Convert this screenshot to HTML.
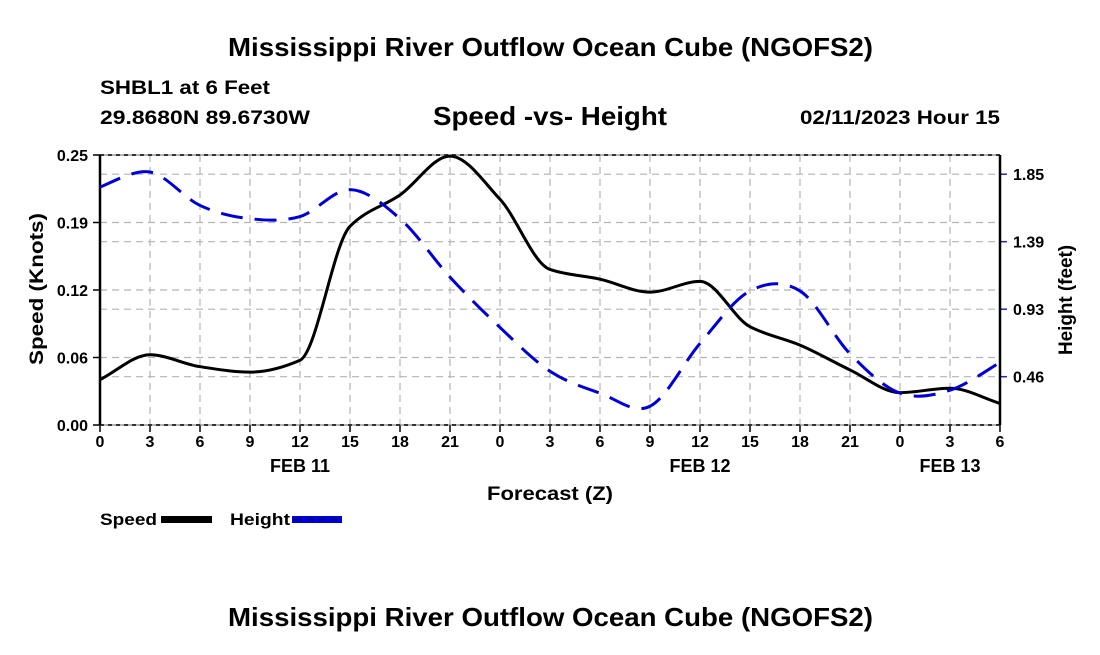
<!DOCTYPE html>
<html><head><meta charset="utf-8"><style>
body{margin:0;background:#fff;width:1100px;height:650px;overflow:hidden}
svg text{font-family:"Liberation Sans",sans-serif;font-weight:bold;fill:#000}
</style></head><body>
<svg id="chart" width="1100" height="650" xmlns="http://www.w3.org/2000/svg">
<text x="228" y="56" font-size="26" textLength="645" lengthAdjust="spacingAndGlyphs">Mississippi River Outflow Ocean Cube (NGOFS2)</text>
<text x="100" y="94" font-size="19" textLength="170" lengthAdjust="spacingAndGlyphs">SHBL1 at 6 Feet</text>
<text x="100" y="124" font-size="19" textLength="210" lengthAdjust="spacingAndGlyphs">29.8680N  89.6730W</text>
<text x="433" y="125" font-size="26" textLength="234" lengthAdjust="spacingAndGlyphs">Speed -vs- Height</text>
<text x="800" y="124" font-size="19" textLength="200" lengthAdjust="spacingAndGlyphs">02/11/2023 Hour 15</text>
<g id="grid"></g><g id="axes"></g><g id="series"></g>
<text transform="translate(43,365) rotate(-90)" font-size="19" textLength="152" lengthAdjust="spacingAndGlyphs">Speed (Knots)</text>
<text transform="translate(1072,355) rotate(-90)" font-size="19" textLength="110" lengthAdjust="spacingAndGlyphs">Height (feet)</text>
<text x="487" y="500" font-size="19" textLength="126" lengthAdjust="spacingAndGlyphs">Forecast (Z)</text>
<g>
<text x="100" y="525" font-size="17" textLength="57" lengthAdjust="spacingAndGlyphs">Speed</text>
<rect x="161" y="516" width="51" height="7" fill="#000"/>
<text x="230" y="525" font-size="17" textLength="60" lengthAdjust="spacingAndGlyphs">Height</text>
<rect x="292" y="516" width="50" height="7" fill="#0000dd"/>
<line x1="294" y1="519.5" x2="340" y2="519.5" stroke="#000066" stroke-width="1.5" stroke-dasharray="8,4"/>
</g>
<text x="228" y="626" font-size="26" textLength="645" lengthAdjust="spacingAndGlyphs">Mississippi River Outflow Ocean Cube (NGOFS2)</text>
</svg>
<script>
const hours=[0,3,6,9,12,15,18,21,24,27,30,33,36,39,42,45,48,51,54];
const tickLabels=["0","3","6","9","12","15","18","21","0","3","6","9","12","15","18","21","0","3","6"];
const dayLabels=["FEB 11","FEB 12","FEB 13"];
const dayHours=[12,36,51];
const speed=[0.042,0.065,0.054,0.049,0.060,0.184,0.213,0.249,0.209,0.144,0.135,0.123,0.133,0.091,0.074,0.051,0.030,0.034,0.020];
const height=[1.762,1.865,1.636,1.545,1.56,1.744,1.545,1.145,0.80,0.50,0.35,0.26,0.69,1.05,1.05,0.62,0.35,0.37,0.56];
const speedTicks=[0,0.0625,0.125,0.1875,0.25];
const speedTickLabels=["0.00","0.06","0.12","0.19","0.25"];
const heightTicks=[0.4625,0.925,1.3875,1.85];
const heightTickLabels=["0.46","0.93","1.39","1.85"];
const L=100,R=1000,T=155,B=425;
const x=h=>L+(R-L)*h/54;
const yS=v=>B-(B-T)*v/0.25;
const yH=v=>376.7-(v-0.4625)*67.5/0.4625;
const NS="http://www.w3.org/2000/svg";
function mk(tag,attrs,parent){const e=document.createElementNS(NS,tag);for(const k in attrs)e.setAttribute(k,attrs[k]);parent.appendChild(e);return e;}
const grid=document.getElementById('grid'),axes=document.getElementById('axes'),series=document.getElementById('series');
const gs={stroke:"#b4b4b4","stroke-width":1.2,"stroke-dasharray":"7,5"};
hours.forEach((h,i)=>{
 if(i>0&&i<hours.length-1){const g=mk('line',Object.assign({x1:x(h),x2:x(h),y1:T,y2:B},gs),grid);
 
 }
 const t=mk('line',{x1:x(h),x2:x(h),y1:B,y2:B+7,stroke:"#000","stroke-width":1.5},axes);
 
 
 const tl=mk('text',{x:x(h),y:B+22,"font-size":16,"text-anchor":"middle"},axes);tl.textContent=tickLabels[i];
 
 
});
dayHours.forEach((h,i)=>{const t=mk('text',{x:x(h),y:B+47,"font-size":18,"text-anchor":"middle"},axes);t.textContent=dayLabels[i];
 
 });
speedTicks.forEach((v,i)=>{
 if(i>0&&i<speedTicks.length-1){const g=mk('line',Object.assign({x1:L,x2:R,y1:yS(v),y2:yS(v)},gs),grid);
 
 }
 const t=mk('line',{x1:L-7,x2:L,y1:yS(v),y2:yS(v),stroke:"#000","stroke-width":1.5},axes);
 
 
 const tl=mk('text',{x:L-12,y:yS(v)+6,"font-size":16,"text-anchor":"end"},axes);tl.textContent=speedTickLabels[i];
 
 
});
heightTicks.forEach((v,i)=>{
 const g=mk('line',Object.assign({x1:L,x2:R,y1:yH(v),y2:yH(v)},gs),grid);
 
 
 const t=mk('line',{x1:R,x2:R+7,y1:yH(v),y2:yH(v),stroke:"#2222cc","stroke-width":1.5},axes);
 
 
 const tl=mk('text',{x:R+13,y:yH(v)+6,"font-size":16},axes);tl.textContent=heightTickLabels[i];
 
 
});
[[L,T,R,T],[L,B,R,B]].forEach(a=>{const l=mk('line',{x1:a[0],y1:a[1],x2:a[2],y2:a[3],stroke:"#000","stroke-width":2,"stroke-dasharray":"4,4"},axes);
 
 });
[[L,T,R,T],[L,B,R,B]].forEach(a=>{const l=mk('line',{x1:a[0],y1:a[1],x2:a[2],y2:a[3],stroke:"#666","stroke-width":1},axes);
 
 });
[[L,T,L,B],[R,T,R,B]].forEach(a=>{const l=mk('line',{x1:a[0],y1:a[1],x2:a[2],y2:a[3],stroke:"#000","stroke-width":2.5},axes);
 
 });
function monotone(pts){const n=pts.length,dx=[],s=[],m=[];
 for(let i=0;i<n-1;i++){dx[i]=pts[i+1][0]-pts[i][0];s[i]=(pts[i+1][1]-pts[i][1])/dx[i];}
 m[0]=s[0];m[n-1]=s[n-2];
 for(let i=1;i<n-1;i++){m[i]=(s[i-1]*s[i]<=0)?0:(3*(dx[i-1]+dx[i]))/((2*dx[i]+dx[i-1])/s[i-1]+(dx[i]+2*dx[i-1])/s[i]);}
 let d=`M${pts[0][0]},${pts[0][1]}`;
 for(let i=0;i<n-1;i++){const h=dx[i]/3;
 d+=` C${pts[i][0]+h},${pts[i][1]+m[i]*h} ${pts[i+1][0]-h},${pts[i+1][1]-m[i+1]*h} ${pts[i+1][0]},${pts[i+1][1]}`;}
 return d;}
function catmull(pts){let d=`M${pts[0][0]},${pts[0][1]}`;
 for(let i=0;i<pts.length-1;i++){const p0=pts[i-1]||pts[i],p1=pts[i],p2=pts[i+1],p3=pts[i+2]||p2;
 d+=` C${p1[0]+(p2[0]-p0[0])/6},${p1[1]+(p2[1]-p0[1])/6} ${p2[0]-(p3[0]-p1[0])/6},${p2[1]-(p3[1]-p1[1])/6} ${p2[0]},${p2[1]}`;}
 return d;}
const sp=mk('path',{d:monotone(hours.map((h,i)=>[x(h),yS(speed[i])])),fill:"none",stroke:"#000","stroke-width":3},series);


const hp=mk('path',{d:catmull(hours.map((h,i)=>[x(h),yH(height[i])])),fill:"none",stroke:"#0000dd","stroke-width":3,"stroke-dasharray":"22,12"},series);


</script>
</body></html>
